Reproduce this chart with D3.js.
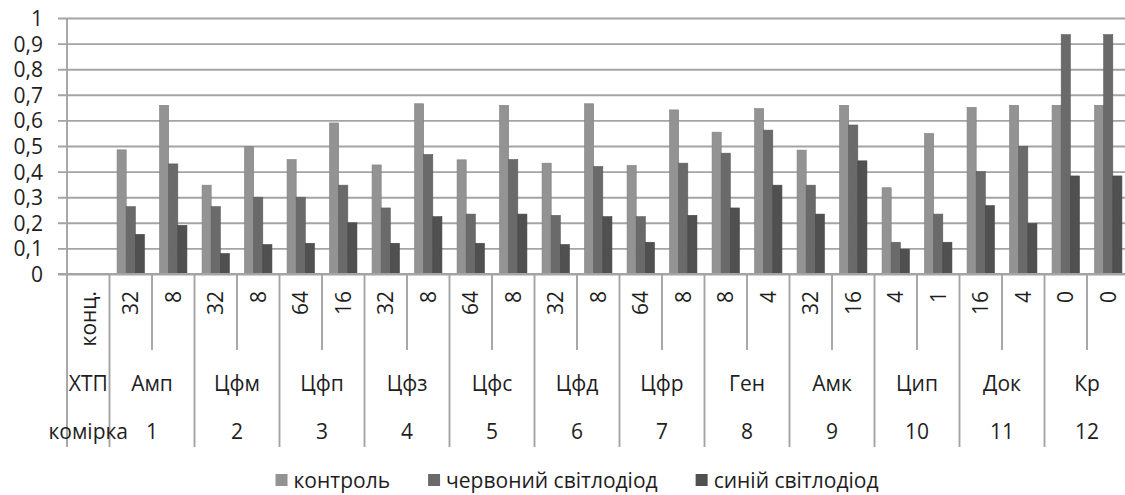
<!DOCTYPE html>
<html>
<head>
<meta charset="utf-8">
<script src="https://cdn.jsdelivr.net/npm/d3@7"></script>
<style>
  html, body { margin: 0; padding: 0; background: #fff; }
  svg { display: block; font-family: "Open Sans", sans-serif; }
</style>
</head>
<body>
<svg id="chart" width="1125" height="495"></svg>
<script>
const firstLabel = "конц.";
const rowLabel2 = "ХТП";
const rowLabel3 = "комірка";
const cells = ["1","2","3","4","5","6","7","8","9","10","11","12"];
const drugs = ["Амп","Цфм","Цфп","Цфз","Цфс","Цфд","Цфр","Ген","Амк","Цип","Док","Кр"];
const concentrations = ["32","8","32","8","64","16","32","8","64","8","32","8","64","8","8","4","32","16","4","1","16","4","0","0"];
const seriesNames = ["контроль","червоний світлодіод","синій світлодіод"];
const control = [0.485,0.659,0.347,0.497,0.447,0.590,0.426,0.665,0.446,0.659,0.433,0.665,0.424,0.641,0.554,0.646,0.484,0.659,0.337,0.549,0.651,0.659,0.659,0.659];
const redLed  = [0.263,0.430,0.263,0.300,0.300,0.347,0.258,0.467,0.234,0.447,0.229,0.420,0.224,0.433,0.472,0.562,0.347,0.582,0.124,0.234,0.400,0.499,0.935,0.935];
const blueLed = [0.155,0.190,0.080,0.115,0.120,0.200,0.120,0.224,0.120,0.234,0.115,0.224,0.124,0.229,0.258,0.347,0.234,0.442,0.097,0.124,0.267,0.197,0.383,0.383];
const yTicks = [0,0.1,0.2,0.3,0.4,0.5,0.6,0.7,0.8,0.9,1];

const colors = ["#939393","#6a6a6a","#505050"];
const series = [control, redLed, blueLed];

const svg = d3.select("#chart");
const axisX = 67, plotTop = 18, plotBottom = 274;
const nCats = concentrations.length + 1;
const step = 42.5;

const x = d3.scaleBand().domain(d3.range(nCats)).range([axisX, axisX + step * nCats]).padding(0);
const xs = d3.scaleBand().domain(d3.range(series.length)).range([0, x.bandwidth()]).paddingInner(0).paddingOuter(0.83);
const y = d3.scaleLinear().domain([0, 1]).range([plotBottom, plotTop]);

const loc = d3.formatLocale({decimal: ",", thousands: " ", grouping: [3], currency: ["", ""]});
const fmt = loc.format(".1~f");

const textColor = "#1e1e1e";
const lineColor = "#a4a4a4";

// gridlines + y labels
const yAxis = d3.axisLeft(y).tickValues(yTicks).tickFormat(fmt)
  .tickSizeInner(-(1130 - 58)).tickSizeOuter(0).tickPadding(15);
const gy = svg.append("g").attr("transform", "translate(58,0)").call(yAxis);
gy.select(".domain").remove();
gy.selectAll(".tick line").attr("stroke", lineColor).attr("stroke-width", 1.9);
gy.selectAll(".tick text").attr("fill", textColor).style("font-size", "21px")
  .style("font-family", "'Open Sans', sans-serif").attr("dy", "0.36em");

// bars
const barData = [];
concentrations.forEach((c, i) => {
  series.forEach((s, k) => barData.push({cat: i + 1, k, v: s[i]}));
});
svg.append("g").selectAll("rect").data(barData).join("rect")
  .attr("x", d => x(d.cat) + xs(d.k))
  .attr("y", d => y(d.v))
  .attr("width", xs.bandwidth())
  .attr("height", d => y(0) - y(d.v))
  .attr("fill", d => colors[d.k])
  .attr("stroke", d => d3.color(colors[d.k]).darker(0.4))
  .attr("stroke-width", 0.6);

// vertical axis line (extends down through the label table)
svg.append("line").attr("x1", axisX).attr("x2", axisX).attr("y1", plotTop).attr("y2", 447)
  .attr("stroke", lineColor).attr("stroke-width", 1.9);
// zero line
svg.append("line").attr("x1", 58).attr("x2", 1130).attr("y1", y(0)).attr("y2", y(0))
  .attr("stroke", lineColor).attr("stroke-width", 1.9);

// separators
const sepData = [];
for (let i = 1; i <= nCats; i++) {
  const xb = x(i - 1) + x.bandwidth();
  const isGroup = (i % 2 === 1);
  sepData.push({x: xb, y2: isGroup ? 447 : 350});
}
svg.append("g").selectAll("line").data(sepData).join("line")
  .attr("x1", d => d.x).attr("x2", d => d.x)
  .attr("y1", plotBottom).attr("y2", d => d.y2)
  .attr("stroke", lineColor).attr("stroke-width", 1.9);

// row 1: rotated concentration labels
const row1 = [firstLabel].concat(concentrations);
svg.append("g").selectAll("text").data(row1).join("text")
  .attr("transform", (d, i) => `translate(${x(i) + x.bandwidth() / 2},291) rotate(-90)`)
  .attr("text-anchor", "end")
  .attr("dy", "0.36em")
  .attr("fill", textColor)
  .style("font-size", "21px")
  .text(d => d);

// row 2: drug labels
svg.append("text").attr("x", x(0) + x.bandwidth() / 2).attr("y", 383).attr("dy", "0.36em")
  .attr("text-anchor", "middle").attr("fill", textColor).style("font-size", "21px").text(rowLabel2);
svg.append("g").selectAll("text").data(drugs).join("text")
  .attr("x", (d, k) => x(1 + 2 * k) + x.bandwidth())
  .attr("y", 383).attr("dy", "0.36em")
  .attr("text-anchor", "middle").attr("fill", textColor).style("font-size", "21px")
  .text(d => d);

// row 3: cell labels
svg.append("text").attr("x", x(0) + x.bandwidth() / 2).attr("y", 431).attr("dy", "0.36em")
  .attr("text-anchor", "middle").attr("fill", textColor).style("font-size", "21px").text(rowLabel3);
svg.append("g").selectAll("text").data(cells).join("text")
  .attr("x", (d, k) => x(1 + 2 * k) + x.bandwidth())
  .attr("y", 431).attr("dy", "0.36em")
  .attr("text-anchor", "middle").attr("fill", textColor).style("font-size", "21px")
  .text(d => d);

// legend
const lg = svg.append("g");
const items = lg.selectAll("g").data(seriesNames).join("g");
items.append("rect").attr("width", 12).attr("height", 12).attr("y", -6)
  .attr("fill", (d, i) => colors[i]);
items.append("text").attr("x", 18).attr("dy", "0.36em").attr("fill", textColor)
  .style("font-size", "21px").text(d => d);
let cursor = 0;
const widths = [];
items.each(function () {
  const w = 18 + this.querySelector("text").getComputedTextLength();
  widths.push(w);
});
items.attr("transform", (d, i) => {
  const off = cursor;
  cursor += widths[i] + 38;
  return `translate(${off},0)`;
});
const total = cursor - 38;
lg.attr("transform", `translate(${577 - total / 2},480)`);
</script>
</body>
</html>
